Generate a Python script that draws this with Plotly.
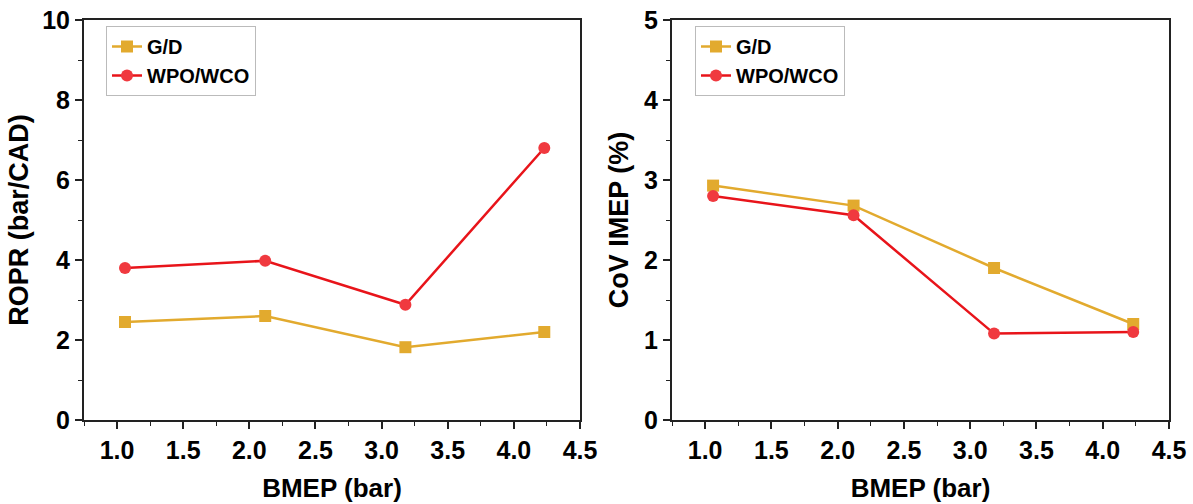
import plotly.graph_objects as go

bmep = [1.06, 2.12, 3.18, 4.23]
ropr_gd = [2.45, 2.60, 1.82, 2.20]
ropr_wpo = [3.80, 3.98, 2.88, 6.80]
cov_gd = [2.93, 2.68, 1.90, 1.20]
cov_wpo = [2.80, 2.56, 1.08, 1.10]

GOLD = "#E2AA2E"
RED = "#E8141A"
RED_M = "#F0393F"
FONT = "Liberation Sans, Arial, sans-serif"

fig = go.Figure()

def add(x, y, name, color, mcolor, symbol, xa, ya, legend, show):
    fig.add_trace(go.Scatter(
        x=x, y=y, name="<b>%s</b>" % name, mode="lines+markers",
        line=dict(color=color, width=2.5),
        marker=dict(symbol=symbol, size=12, color=mcolor, line=dict(width=0)),
        xaxis=xa, yaxis=ya, legend=legend, showlegend=show))

add(bmep, ropr_gd, "G/D", GOLD, GOLD, "square", "x", "y", "legend", True)
add(bmep, ropr_wpo, "WPO/WCO", RED, RED_M, "circle", "x", "y", "legend", True)
add(bmep, cov_gd, "G/D", GOLD, GOLD, "square", "x2", "y2", "legend2", True)
add(bmep, cov_wpo, "WPO/WCO", RED, RED_M, "circle", "x2", "y2", "legend2", True)

tickfont = dict(family=FONT, size=25, color="black")
xtitlefont = dict(family=FONT, size=26, color="black")
ytitlefont = dict(family=FONT, size=27, color="black")
xticks = [1.0, 1.5, 2.0, 2.5, 3.0, 3.5, 4.0, 4.5]

def xaxis(domain, anchor):
    return dict(domain=domain, anchor=anchor, range=[0.75, 4.5], automargin=False,
                tickmode="array", tickvals=xticks,
                ticktext=["<b>%.1f</b>" % v for v in xticks],
                ticks="outside", ticklen=7, tickwidth=1.5, tickcolor="#222",
                minor=dict(ticks="outside", ticklen=4, dtick=0.25, tick0=0.75, tickcolor="#222", tickwidth=1.2),
                showline=True, linecolor="#222", linewidth=2, mirror=True,
                showgrid=False, zeroline=False, tickfont=tickfont,
                title=dict(text="<b>BMEP (bar)</b>", font=xtitlefont, standoff=16))

def yaxis(domain, anchor, rng, dtick, mdtick, title, standoff):
    vals = [rng[0] + i * dtick for i in range(int(round((rng[1] - rng[0]) / dtick)) + 1)]
    return dict(domain=domain, anchor=anchor, range=rng, automargin=False,
                tickmode="array", tickvals=vals, ticktext=["<b>%g</b>" % v for v in vals],
                ticks="outside", ticklen=7, tickwidth=1.5, tickcolor="#222",
                minor=dict(ticks="outside", ticklen=4, dtick=mdtick, tickcolor="#222", tickwidth=1.2),
                showline=True, linecolor="#222", linewidth=2, mirror=True,
                showgrid=False, zeroline=False, tickfont=tickfont,
                title=dict(text=title, font=ytitlefont, standoff=standoff))

ydom = [1 - 420 / 504, 1 - 20 / 504]
legfont = dict(family=FONT, size=20, color="black")

fig.update_layout(
    width=1193, height=504,
    margin=dict(l=0, r=0, t=0, b=0, autoexpand=False),
    paper_bgcolor="white", plot_bgcolor="white",
    xaxis=xaxis([84 / 1193, 580 / 1193], "y"),
    yaxis=yaxis(ydom, "x", [0, 10], 2, 1, "<b>ROPR (bar/CAD)</b>", 6),
    xaxis2=xaxis([672 / 1193, 1169 / 1193], "y2"),
    yaxis2=yaxis(ydom, "x2", [0, 5], 1, 0.5, "<b>CoV IMEP (%)</b>", 8),
    legend=dict(x=106 / 1193, y=1 - 26 / 504, xanchor="left", yanchor="top",
                bordercolor="#BBBBBB", borderwidth=1, bgcolor="white",
                font=legfont, tracegroupgap=0),
    legend2=dict(x=695 / 1193, y=1 - 26 / 504, xanchor="left", yanchor="top",
                 bordercolor="#BBBBBB", borderwidth=1, bgcolor="white",
                 font=legfont, tracegroupgap=0),
)

fig.write_html("out.html")
